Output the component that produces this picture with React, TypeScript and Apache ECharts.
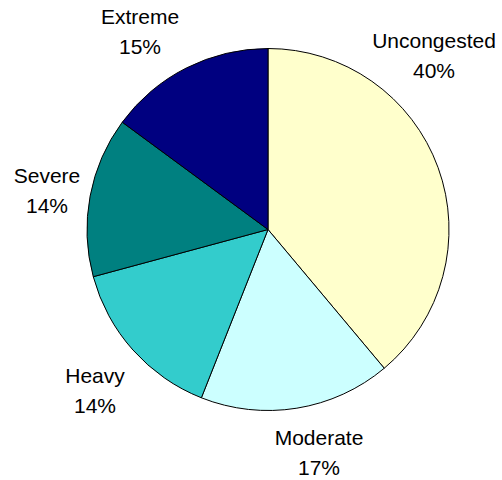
import React, { useEffect, useRef } from "react";
import * as echarts from "echarts";

const categories = ["Uncongested", "Moderate", "Heavy", "Severe", "Extreme"];
const values = [38.9, 17.1, 14.8, 14.3, 14.9];
const percentLabels = ["40%", "17%", "14%", "14%", "15%"];
const colors = ["#FFFFCC", "#CCFFFF", "#33CCCC", "#008080", "#000080"];
const labelPositions: [number, number][] = [
  [434, 55],
  [319, 452],
  [95, 390],
  [47, 190],
  [140, 31],
];

export default function App() {
  const ref = useRef<HTMLDivElement>(null);
  useEffect(() => {
    if (!ref.current) return;
    const chart = echarts.init(ref.current, null, { renderer: "svg" });
    chart.setOption({
      animation: false,
      backgroundColor: "#ffffff",
      series: [
        {
          type: "pie",
          center: [268, 229.5],
          radius: 181,
          startAngle: 90,
          clockwise: true,
          avoidLabelOverlap: false,
          data: categories.map((name, i) => ({
            name,
            value: values[i],
            itemStyle: { color: colors[i] },
          })),
          itemStyle: { borderColor: "#000000", borderWidth: 1 },
          emphasis: { disabled: true },
          label: {
            show: true,
            position: "outside",
            alignTo: "none",
            overflow: "none",
            formatter: (p: any) => `${p.name}\n${percentLabels[p.dataIndex]}`,
            fontFamily: "Liberation Sans, Arial, sans-serif",
            fontSize: 21,
            lineHeight: 30,
            color: "#000000",
            align: "center",
          },
          labelLine: { show: false },
          labelLayout: (params: any) => {
            const pos = labelPositions[params.dataIndex];
            return { x: pos[0], y: pos[1], align: "center", verticalAlign: "middle", hideOverlap: false };
          },
        },
      ],
    });
    return () => chart.dispose();
  }, []);
  return (
    <div
      ref={ref}
      style={{ position: "absolute", left: 0, top: 0, width: 502, height: 480 }}
    />
  );
}
